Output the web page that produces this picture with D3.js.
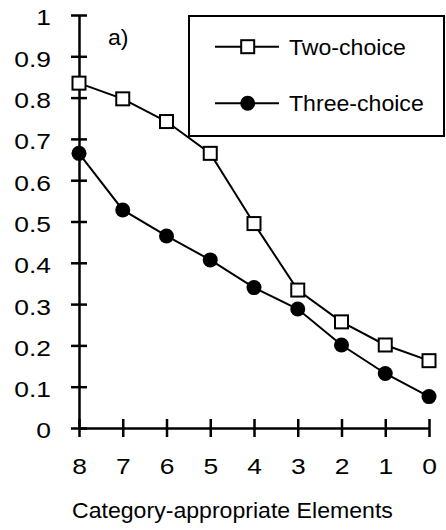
<!DOCTYPE html>
<html>
<head>
<meta charset="utf-8">
<script src="https://cdn.jsdelivr.net/npm/d3@7"></script>
<style>
  html, body { margin: 0; padding: 0; background: #fff; }
  text { font-family: "Liberation Sans", Arial, sans-serif; fill: #000; }
</style>
</head>
<body>
<svg id="chart" width="446" height="530"></svg>
<script>
// Category-appropriate elements, shown from 8 down to 0
const elements = [8, 7, 6, 5, 4, 3, 2, 1, 0];
const twoChoice = [0.835, 0.797, 0.742, 0.665, 0.495, 0.334, 0.257, 0.201, 0.163];
const threeChoice = [0.665, 0.528, 0.465, 0.407, 0.340, 0.288, 0.201, 0.132, 0.076];
const yTicks = [0, 0.1, 0.2, 0.3, 0.4, 0.5, 0.6, 0.7, 0.8, 0.9, 1];
const seriesNames = ["Two-choice", "Three-choice"];

// Type: slightly wide glyphs, wider still for the tick numbers
const TXT = { size: "22px", sx: 1.05 };
const NUM = { size: "22px", sx: 1.2 };

const svg = d3.select("#chart");
const x = d3.scaleLinear().domain([8, 0]).range([79, 429]);
const y = d3.scaleLinear().domain([0, 1]).range([428, 15]);

function label(px, py, str) {
  return svg.append("text")
    .attr("transform", `translate(${px},${py}) scale(${TXT.sx},1)`)
    .style("font-size", TXT.size).text(str);
}

// Axes
const yAxis = d3.axisLeft(y).tickValues(yTicks).tickSizeInner(8).tickSizeOuter(0)
  .tickFormat(d => d === 0 ? "0" : d === 1 ? "1" : d3.format(".1f")(d));
const gy = svg.append("g").attr("transform", `translate(${x(8)},0)`).call(yAxis);
gy.select(".domain").attr("stroke", "#000").attr("stroke-width", 2.5);
gy.selectAll(".tick line").attr("x2", 8).attr("x1", -8).attr("stroke-width", 2.5);
gy.selectAll(".tick text").attr("x", -28 / NUM.sx).attr("dy", "0.45em")
  .attr("transform", `scale(${NUM.sx},1)`)
  .style("font-size", NUM.size).style("font-family", "'Liberation Sans', Arial, sans-serif");

const xAxis = d3.axisBottom(x).tickValues(elements).tickSizeInner(8).tickSizeOuter(0)
  .tickFormat(d3.format("d"));
const gx = svg.append("g").attr("transform", `translate(0,${y(0)})`).call(xAxis);
gx.select(".domain").attr("stroke", "#000").attr("stroke-width", 2.5);
gx.selectAll(".tick line").attr("y1", -9).attr("y2", 9).attr("stroke-width", 2.5);
gx.selectAll(".tick text").attr("y", 46).attr("dy", 0)
  .attr("transform", `scale(${NUM.sx},1)`)
  .style("font-size", NUM.size).style("font-family", "'Liberation Sans', Arial, sans-serif");

// Axis title
label(72, 518, "Category-appropriate Elements");

// Panel label
label(108, 45, "a)");

const line = d3.line().x((d, i) => x(elements[i])).y(d => y(d));

// Two-choice: open squares
svg.append("path").datum(twoChoice).attr("d", line)
  .attr("fill", "none").attr("stroke", "#000").attr("stroke-width", 2);
svg.selectAll(".sq").data(twoChoice).enter().append("rect")
  .attr("x", (d, i) => x(elements[i]) - 6.5).attr("y", d => y(d) - 6.5)
  .attr("width", 13).attr("height", 13)
  .attr("fill", "#fff").attr("stroke", "#000").attr("stroke-width", 2);

// Three-choice: filled circles
svg.append("path").datum(threeChoice).attr("d", line)
  .attr("fill", "none").attr("stroke", "#000").attr("stroke-width", 2);
svg.selectAll(".dot").data(threeChoice).enter().append("circle")
  .attr("cx", (d, i) => x(elements[i])).attr("cy", d => y(d)).attr("r", 7.5)
  .attr("fill", "#000");

// Legend
svg.append("rect").attr("x", 189).attr("y", 16).attr("width", 255).attr("height", 120)
  .attr("fill", "#fff").attr("stroke", "#000").attr("stroke-width", 2);
const rows = [{ name: seriesNames[0], cy: 46.7, shape: "square" },
              { name: seriesNames[1], cy: 103.3, shape: "circle" }];
rows.forEach(r => {
  svg.append("line").attr("x1", 215).attr("x2", 279).attr("y1", r.cy).attr("y2", r.cy)
    .attr("stroke", "#000").attr("stroke-width", 2);
  if (r.shape === "square") {
    svg.append("rect").attr("x", 247.7 - 6.5).attr("y", r.cy - 6.5).attr("width", 13).attr("height", 13)
      .attr("fill", "#fff").attr("stroke", "#000").attr("stroke-width", 2);
  } else {
    svg.append("circle").attr("cx", 247.7).attr("cy", r.cy).attr("r", 7.5).attr("fill", "#000");
  }
  label(289, r.cy + 8, r.name);
});
</script>
</body>
</html>
